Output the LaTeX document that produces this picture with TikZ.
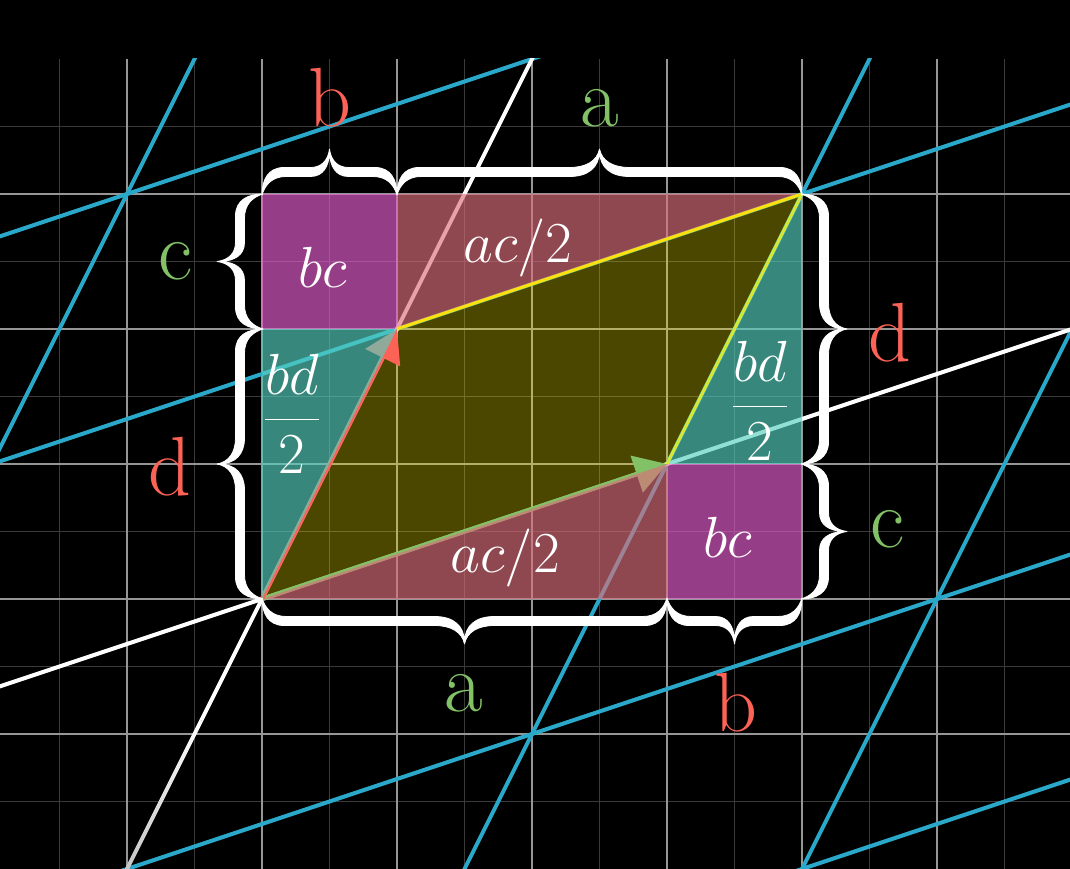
\RequirePackage{fix-cm}
\documentclass[tikz,border=0pt]{standalone}
\usetikzlibrary{arrows.meta}
\definecolor{gridmajor}{RGB}{150,150,150}
\definecolor{gridminor}{RGB}{58,58,58}
\definecolor{tblue}{RGB}{41,168,202}
\definecolor{tred}{HTML}{FC6255}
\definecolor{tgreen}{HTML}{83C167}
\definecolor{fmag}{RGB}{231,95,208}
\definecolor{fred}{RGB}{220,111,123}
\definecolor{fteal}{RGB}{86,208,192}
\definecolor{fyel}{RGB}{250,233,0}
\definecolor{edgeyel}{RGB}{252,226,10}
\definecolor{edgegy}{RGB}{212,232,55}
\definecolor{axisgray}{RGB}{185,185,185}
\tikzset{
  majorline/.style={gridmajor, line width=2pt},
  minorline/.style={gridminor, line width=1.8pt},
  tline/.style={tblue, line width=4pt},
  axisline/.style={white, line width=4pt},
  region/.style={fill opacity=0.65},
  vec/.style={line width=4.5pt, -{Triangle[length=32pt,width=38pt]}},
  pics/curly/.style 2 args={code={
    \fill[white, draw=white, line width=0.8pt, line join=round]
      (0pt,-1pt) .. controls (0pt,14pt) and (6pt,26.5pt) .. (22pt,26.5pt)
      -- ({#1/2-#2},26.5pt) .. controls ({#1/2-0.45*#2},26.5pt) and ({#1/2-0.08*#2},33pt) .. ({#1/2},45pt)
      .. controls ({#1/2+0.08*#2},33pt) and ({#1/2+0.45*#2},26.5pt) .. ({#1/2+#2},26.5pt)
      -- ({#1-22pt},26.5pt) .. controls ({#1-6pt},26.5pt) and (#1,14pt) .. (#1,-1pt)
      .. controls ({#1-3pt},9pt) and ({#1-10pt},17.5pt) .. ({#1-24pt},17.5pt)
      -- ({#1/2+#2},17.5pt) .. controls ({#1/2+0.35*#2},17.5pt) and ({#1/2+0.03*#2},27pt) .. ({#1/2},41.5pt)
      .. controls ({#1/2-0.03*#2},27pt) and ({#1/2-0.35*#2},17.5pt) .. ({#1/2-#2},17.5pt)
      -- (24pt,17.5pt) .. controls (10pt,17.5pt) and (3pt,9pt) .. (0pt,-1pt) -- cycle;
  }},
  biglabel/.style={inner sep=0pt, font=\fontsize{84}{84}\selectfont},
  inlabel/.style={white, inner sep=0pt, font=\fontsize{58}{58}\selectfont},
}
\begin{document}
\begin{tikzpicture}[x=135pt,y=135pt]
\fill[black] (-1.9407,-2) rectangle (5.9852,4.4370);
\useasboundingbox (-1.9407,-2) rectangle (5.9852,4.4370);
\coordinate (O) at (0,0);
\coordinate (I) at (3,1);
\coordinate (J) at (1,2);
\coordinate (S) at (4,3);
\begin{scope}
  \clip (-1.9407,-2) rectangle (5.9852,4);
  \foreach \x in {-1.5,-0.5,...,5.5} \draw[minorline] (\x,-2) -- (\x,4);
  \foreach \y in {-1.5,-0.5,...,3.5} \draw[minorline] (-2,\y) -- (6,\y);
  \foreach \x in {-1,...,5} \draw[majorline] (\x,-2) -- (\x,4);
  \foreach \y in {-1,...,3} \draw[majorline] (-2,\y) -- (6,\y);
  % transformed grid lines parallel to i-hat
  \draw[tline] (-11,-7) -- (7,-1);
  \draw[tline] (-10,-5) -- (8,1);
  \draw[tline] (-8,-1) -- (10,5);
  \draw[tline] (-7,1) -- (11,7);
  % transformed grid lines parallel to j-hat
  \draw[tline] (-7,-9) -- (1,7);
  \draw[tline] (-1,-7) -- (7,9);
  \draw[tline] (2,-6) -- (10,10);
  % transformed axes
  \draw[axisline] (-9,-3) -- (9,3);
  \draw[axisline] (-0.45,-0.9) -- (4,8);
  \shade[top color=white, bottom color=axisgray]
    (-0.43675,-0.90662) -- (-0.46325,-0.89338) -- (-1.11325,-2.19338) -- (-1.08675,-2.20662) -- cycle;
\end{scope}
% parallelogram
\fill[fyel, fill opacity=0.3] (O) -- (I) -- (S) -- (J) -- cycle;
% basis vectors
\draw[vec, tgreen] (O) -- (I);
\draw[vec, tred] (O) -- (J);
% surrounding regions
\fill[region, fmag] (0,2) rectangle (1,3);
\fill[region, fmag] (3,0) rectangle (4,1);
\fill[region, fred] (1,3) -- (4,3) -- (J) -- cycle;
\fill[region, fred] (O) -- (I) -- (3,0) -- cycle;
\fill[region, fteal] (O) -- (0,2) -- (J) -- cycle;
\fill[region, fteal] (S) -- (4,1) -- (I) -- cycle;
% parallelogram edges
\draw[edgeyel, line width=3pt] (J) -- (S);
\draw[edgegy, line width=3pt] (I) -- (S);
% braces
\pic at (0,3) {curly={135pt}{19pt}};
\pic at (1,3) {curly={405pt}{30pt}};
\pic[rotate=90] at (0,2) {curly={135pt}{19pt}};
\pic[rotate=90] at (0,0) {curly={270pt}{26pt}};
\pic[rotate=-90] at (4,3) {curly={270pt}{26pt}};
\pic[rotate=-90] at (4,1) {curly={135pt}{19pt}};
\pic[rotate=180] at (3,0) {curly={405pt}{30pt}};
\pic[rotate=180] at (4,0) {curly={135pt}{19pt}};
% brace labels
\node[biglabel, tred, anchor=base] (lb1) at (0.5,3.5) {b};
\node[biglabel, tgreen, anchor=base] (la1) at (2.5,3.5) {a};
\node[biglabel, tgreen, anchor=base] (lc1) at (-0.644,2.363) {c};
\node[biglabel, tred, anchor=base] (ld1) at (-0.68,0.77) {d};
\node[biglabel, tred, anchor=base] (ld2) at (4.652,1.756) {d};
\node[biglabel, tgreen, anchor=base] (lc2) at (4.63,0.378) {c};
\node[biglabel, tgreen, anchor=base] (la2) at (1.496,-0.83) {a};
\node[biglabel, tred, anchor=base] (lb2) at (3.51,-0.978) {b};
% area labels
\node[inlabel, anchor=base] (bc1) at (0.452,2.311) {$bc$};
\node[inlabel, anchor=base] (ac1) at (1.896,2.489) {$ac/2$};
\node[inlabel, anchor=base] (ac2) at (1.8,0.193) {$ac/2$};
\node[inlabel, anchor=base] (bc2) at (3.452,0.304) {$bc$};
\node[inlabel] (bd1) at (0.222,1.374) {$\displaystyle\frac{bd}{2}$};
\node[inlabel] (bd2) at (3.689,1.470) {$\displaystyle\frac{bd}{2}$};
\end{tikzpicture}
\end{document}
